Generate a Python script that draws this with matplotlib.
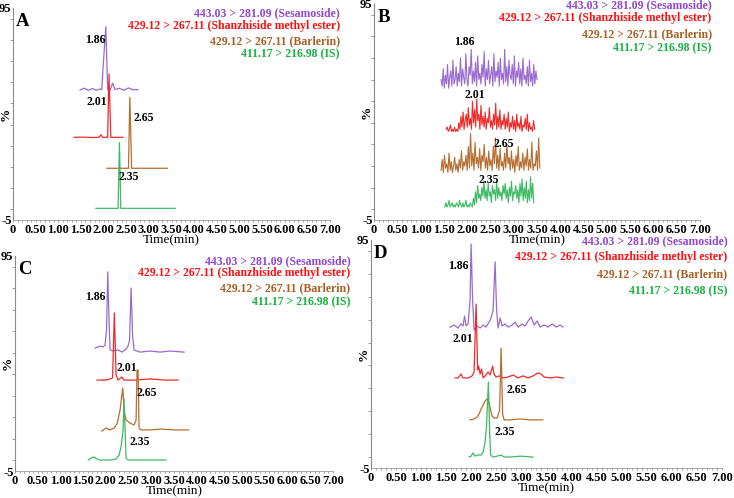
import numpy as np
import matplotlib.pyplot as plt

plt.rcParams['font.family'] = ['Liberation Serif', 'DejaVu Serif']
plt.rcParams['font.weight'] = 'bold'

# ---- shared text ----
channel_labels = ["443.03 > 281.09 (Sesamoside)",
                  "429.12 > 267.11 (Shanzhiside methyl ester)",
                  "429.12 > 267.11 (Barlerin)",
                  "411.17 > 216.98 (IS)"]
peak_labels = ["1.86", "2.01", "2.65", "2.35"]
xtick_labels = ["0", "0.50", "1.00", "1.50", "2.00", "2.50", "3.00", "3.50",
                "4.00", "4.50", "5.00", "5.50", "6.00", "6.50", "7.00"]
xtick_values = [0, 0.5, 1.0, 1.5, 2.0, 2.5, 3.0, 3.5, 4.0, 4.5, 5.0, 5.5, 6.0, 6.5, 7.0]

# ---- panel A (time in min, intensity in %) ----
a_ses_t = [1.48, 1.58, 1.66, 1.75, 1.84, 1.92, 1.96, 1.99, 2.05, 2.09, 2.14, 2.20, 2.25, 2.35, 2.45, 2.55, 2.65, 2.76]
a_ses_i = [56.3, 57.2, 56.1, 57.0, 56.2, 56.8, 56.5, 67.3, 86.2, 56.4, 56.0, 59.5, 56.6, 57.1, 56.2, 57.3, 56.4, 56.5]
a_sme_t = [1.35, 1.55, 1.75, 1.90, 1.94, 1.98, 2.09, 2.12, 2.16, 2.25, 2.43]
a_sme_i = [34.0, 34.1, 33.9, 34.0, 35.2, 34.0, 34.0, 63.9, 34.0, 34.0, 34.0]
a_bar_t = [2.07, 2.30, 2.55, 2.58, 2.62, 2.90, 3.41]
a_bar_i = [19.4, 19.4, 19.4, 52.9, 19.4, 19.4, 19.4]
a_is_t = [1.83, 2.10, 2.32, 2.35, 2.38, 2.80, 3.58]
a_is_i = [0.5, 0.5, 0.5, 31.5, 0.5, 0.5, 0.5]

# ---- panel B (blank, noise only) ----
b_ses_range = [1.44, 3.50]
b_ses_i = [60, 57, 65, 56, 62, 58, 67, 56, 61, 64, 57, 69, 58, 60, 66, 57, 63, 59, 70, 57,
           65, 61, 58, 72, 60, 57, 66, 62, 74, 58, 64, 59, 68, 57, 71, 60, 63, 58, 67, 61,
           73, 57, 65, 60, 69, 58, 62, 66, 57, 72, 59, 64, 61, 68, 57, 70, 60, 63, 58, 74,
           59, 66, 57, 69, 62, 60, 67, 58, 71, 57, 64, 61, 68, 58, 65, 57, 70, 60, 62, 58,
           66, 57, 69, 59, 63, 57, 67, 58, 64, 60]
b_sme_range = [1.55, 3.45]
b_sme_i = [37, 38, 36, 37, 39, 36, 37, 36, 38, 36, 37, 36, 40, 37, 43, 38, 45, 37, 41, 44,
           38, 47, 39, 42, 37, 50, 40, 46, 38, 51, 41, 44, 37, 48, 39, 43, 38, 45, 37, 42,
           40, 47, 38, 41, 37, 44, 39, 49, 37, 43, 38, 46, 37, 41, 39, 44, 37, 42, 38, 45,
           36, 40, 38, 43, 37, 41, 36, 44, 38, 40, 37, 43, 36, 39, 38, 42, 37, 44, 36, 40,
           37, 38, 36, 41, 37]
b_bar_range = [1.44, 3.56]
b_bar_i = [18, 23, 17, 25, 19, 21, 17, 26, 18, 22, 17, 20, 24, 18, 21, 17, 23, 19, 27, 18,
           22, 20, 25, 18, 29, 19, 35, 20, 26, 18, 31, 21, 24, 19, 28, 18, 25, 22, 30, 19,
           24, 18, 27, 20, 23, 18, 29, 21, 33, 19, 25, 18, 28, 20, 22, 18, 26, 19, 30, 21,
           24, 18, 27, 19, 23, 17, 25, 20, 29, 18, 22, 19, 26, 18, 24, 20, 28, 18, 23, 19,
           31, 18, 21, 20, 27, 18, 33, 19]
b_is_range = [1.52, 3.43]
b_is_i = [1, 3, 1, 2, 4, 1, 2, 3, 1, 2, 1, 3, 2, 1, 4, 2, 1, 3, 1, 2,
          4, 1, 2, 1, 3, 2, 1, 5, 2, 8, 3, 11, 5, 7, 4, 10, 6, 13, 5, 9,
          4, 12, 6, 8, 3, 11, 7, 9, 4, 13, 5, 10, 6, 8, 4, 11, 7, 12, 5, 9,
          3, 10, 6, 13, 4, 8, 7, 11, 5, 9, 3, 12, 6, 14, 4, 10, 5, 13, 3, 9,
          4, 15, 5, 12, 3]

# ---- panel C ----
c_ses_t = [1.762, 1.872, 1.938, 1.982, 2.015, 2.042, 2.070, 2.093, 2.159, 2.269, 2.357, 2.445,
           2.489, 2.522, 2.555, 2.588, 2.621, 2.753, 2.974, 3.194, 3.414, 3.722]
c_ses_i = [52.2, 53.1, 52.7, 53.6, 60.6, 87.6, 65.2, 51.3, 50.8, 51.3, 50.3, 51.7,
           53.1, 55.9, 80.1, 58.3, 51.3, 50.3, 50.8, 50.3, 50.8, 50.3]
c_sme_t = [1.806, 1.982, 2.093, 2.148, 2.187, 2.225, 2.269, 2.350, 2.401, 2.643, 2.974, 3.304, 3.590]
c_sme_i = [37.3, 37.3, 37.8, 38.3, 68.5, 39.7, 37.3, 38.7, 37.3, 37.3, 37.8, 37.3, 37.3]
c_bar_t = [1.910, 2.004, 2.093, 2.181, 2.247, 2.313, 2.372, 2.407, 2.445, 2.533, 2.621, 2.665,
           2.687, 2.709, 2.731, 2.775, 2.974, 3.194, 3.524, 3.817]
c_bar_i = [13.6, 15.0, 14.1, 15.0, 16.9, 23.4, 33.6, 22.4, 18.7, 17.3, 16.4, 18.7,
           42.0, 42.0, 15.0, 14.1, 14.1, 14.5, 14.1, 14.1]
c_is_t = [1.615, 1.674, 1.740, 1.806, 1.872, 2.093, 2.225, 2.291, 2.335, 2.379, 2.401, 2.423,
          2.445, 2.489, 2.753, 3.084, 3.326]
c_is_i = [0.1, 1.0, 1.5, 0.6, 0.1, 0.1, 0.6, 2.4, 6.2, 14.1, 28.5, 14.1, 1.0, 0.1, 0.1, 0.1, 0.1]

# ---- panel D ----
d_ses_t = [1.577, 1.657, 1.737, 1.796, 1.836, 1.866, 1.896, 1.936, 1.976, 1.996, 2.026, 2.056,
           2.116, 2.176, 2.236, 2.295, 2.355, 2.395, 2.435, 2.475, 2.505, 2.535, 2.575, 2.615,
           2.675, 2.735, 2.814, 2.874, 2.934, 3.014, 3.074, 3.134, 3.194, 3.253, 3.313, 3.373,
           3.453, 3.533, 3.613, 3.693, 3.772, 3.832]
d_ses_i = [56.8, 57.7, 56.4, 58.2, 57.3, 61.7, 57.3, 58.2, 68.7, 93.2, 68.7, 55.5,
           57.3, 56.4, 57.7, 56.8, 59.0, 60.8, 64.3, 85.4, 64.3, 56.4, 60.8, 57.3,
           58.2, 56.8, 57.7, 59.0, 56.8, 58.2, 57.3, 59.5, 61.2, 57.7, 59.5, 56.8,
           57.7, 56.8, 58.2, 56.8, 57.7, 56.8]
d_sme_t = [1.677, 1.737, 1.796, 1.836, 1.936, 2.016, 2.056, 2.096, 2.126, 2.146, 2.176, 2.206,
           2.236, 2.295, 2.335, 2.375, 2.425, 2.455, 2.495, 2.555, 2.635, 2.735, 2.834, 2.934,
           3.034, 3.134, 3.234, 3.333, 3.393, 3.453, 3.573, 3.693, 3.832]
d_sme_i = [34.5, 34.5, 36.2, 34.5, 34.5, 35.4, 37.1, 66.9, 38.0, 39.7, 36.2, 38.4,
           34.5, 35.8, 37.1, 35.8, 39.7, 36.2, 34.9, 35.4, 34.5, 34.9, 35.8, 34.5,
           35.4, 34.5, 35.4, 36.7, 36.2, 34.9, 34.5, 34.9, 34.5]
d_bar_t = [1.976, 2.056, 2.116, 2.156, 2.196, 2.236, 2.275, 2.315, 2.355, 2.385, 2.415, 2.455,
           2.515, 2.565, 2.595, 2.625, 2.655, 2.774, 2.974, 3.174, 3.427]
d_bar_i = [16.1, 16.5, 17.4, 18.7, 20.9, 22.6, 24.4, 25.3, 23.5, 20.4, 17.8, 16.9,
           16.9, 20.4, 47.6, 18.7, 16.1, 16.1, 16.5, 16.1, 16.1]
d_is_t = [1.956, 1.996, 2.036, 2.076, 2.136, 2.196, 2.236, 2.275, 2.305, 2.341, 2.365, 2.385,
          2.435, 2.515, 2.595, 2.655, 2.774, 2.974, 3.228]
d_is_i = [-0.2, 0.2, 1.6, 0.2, 0.7, 0.7, 2.0, 6.4, 13.9, 32.7, 11.7, 0.7,
          -0.2, 0.2, 0.7, -0.2, -0.2, 0.2, -0.2]

line_colors = ["#9a6ad0", "#ee2a2a", "#b56d30", "#3dba62"]
text_colors = ["#9146d0", "#ff1010", "#a95f22", "#17b23f"]

W, H = 734, 498
fig = plt.figure(figsize=(W / 100, H / 100), dpi=100)


def px_axes(left, top, right, bottom):
    ax = fig.add_axes([left / W, 1 - bottom / H, (right - left) / W, (bottom - top) / H])
    ax.patch.set_visible(False)   # panels overlap a little, keep neighbours' labels visible
    return ax


def style_axes(ax, letter):
    ax.set_xlim(0, 7.0)
    ax.set_ylim(-5, 95)
    for s in ["top", "right"]:
        ax.spines[s].set_visible(False)
    ax.spines["left"].set_color("#8a8a8a")
    ax.spines["bottom"].set_color("#9a9a9a")
    ax.spines["left"].set_linewidth(0.8)
    ax.spines["bottom"].set_linewidth(0.6)
    ax.set_xticks(xtick_values)
    ax.set_xticklabels(xtick_labels, fontsize=9)
    ax.set_xticks(np.arange(0, 7.01, 0.1), minor=True)
    ax.tick_params(axis="x", which="both", length=1.5, width=0.5, color="#777777", pad=1.5)
    ax.set_yticks([-5, 95])
    ax.set_yticklabels(["-5", "95"], fontsize=9)
    ax.set_yticks(np.arange(0, 91, 10), minor=True)
    ax.tick_params(axis="y", which="major", length=0, pad=1)
    ax.tick_params(axis="y", which="minor", length=2.5, width=0.5, color="#777777")
    ax.set_xlabel("Time(min)", fontsize=9.5, labelpad=-1)
    ax.annotate("%", xy=(0, 0.5), xycoords="axes fraction", xytext=(-5, 0),
                textcoords="offset points", rotation=90, ha="center", va="center", fontsize=9.5)
    ax.annotate(letter, xy=(0, 1), xycoords="axes fraction", xytext=(7, -9.5),
                textcoords="offset points", ha="center", va="center", fontsize=13.5)


def draw_legend(ax, x, ys):
    for text, y, c in zip(channel_labels, ys, text_colors):
        ax.text(x, y, text, color=c, ha="right", va="center", fontsize=8.5, clip_on=False)


def draw_peak_labels(ax, xs, ys):
    for text, x, y in zip(peak_labels, xs, ys):
        ax.text(x, y, text, ha="center", va="center", fontsize=8.5, color="black")


# Panel A
axA = px_axes(13, 8, 330, 220)
style_axes(axA, "A")
for t, i, c in zip([a_ses_t, a_sme_t, a_bar_t, a_is_t], [a_ses_i, a_sme_i, a_bar_i, a_is_i], line_colors):
    axA.plot(t, i, color=c, lw=0.9)
draw_legend(axA, 7.22, [92.6, 86.5, 79.4, 73.3])
draw_peak_labels(axA, [1.81, 1.86, 2.88, 2.55], [79.9, 50.8, 43.0, 15.4])

# Panel B
axB = px_axes(374, 4, 700, 220)
style_axes(axB, "B")
for rng, i, c in zip([b_ses_range, b_sme_range, b_bar_range, b_is_range],
                     [b_ses_i, b_sme_i, b_bar_i, b_is_i], line_colors):
    axB.plot(np.linspace(rng[0], rng[1], len(i)), i, color=c, lw=0.8)
draw_legend(axB, 7.25, [94.5, 88.4, 80.9, 74.4])
draw_peak_labels(axB, [1.93, 2.17, 2.79, 2.47], [77.2, 52.8, 30.2, 13.3])

# Panel C
axC = px_axes(15, 256, 333, 471)
style_axes(axC, "C")
for t, i, c in zip([c_ses_t, c_sme_t, c_bar_t, c_is_t], [c_ses_i, c_sme_i, c_bar_i, c_is_i], line_colors):
    axC.plot(t, i, color=c, lw=0.9)
draw_legend(axC, 7.38, [92.7, 87.1, 80.1, 73.6])
draw_peak_labels(axC, [1.76, 2.46, 2.90, 2.74], [76.1, 42.8, 31.1, 8.6])

# Panel D
axD = px_axes(371, 240, 722, 468)
style_axes(axD, "D")
for t, i, c in zip([d_ses_t, d_sme_t, d_bar_t, d_is_t], [d_ses_i, d_sme_i, d_bar_i, d_is_i], line_colors):
    axD.plot(t, i, color=c, lw=0.9)
draw_legend(axD, 7.11, [94.6, 87.5, 80.1, 72.6])
draw_peak_labels(axD, [1.74, 1.84, 2.91, 2.66], [83.7, 51.6, 29.3, 10.9])

fig.savefig("out.png", dpi=100)
